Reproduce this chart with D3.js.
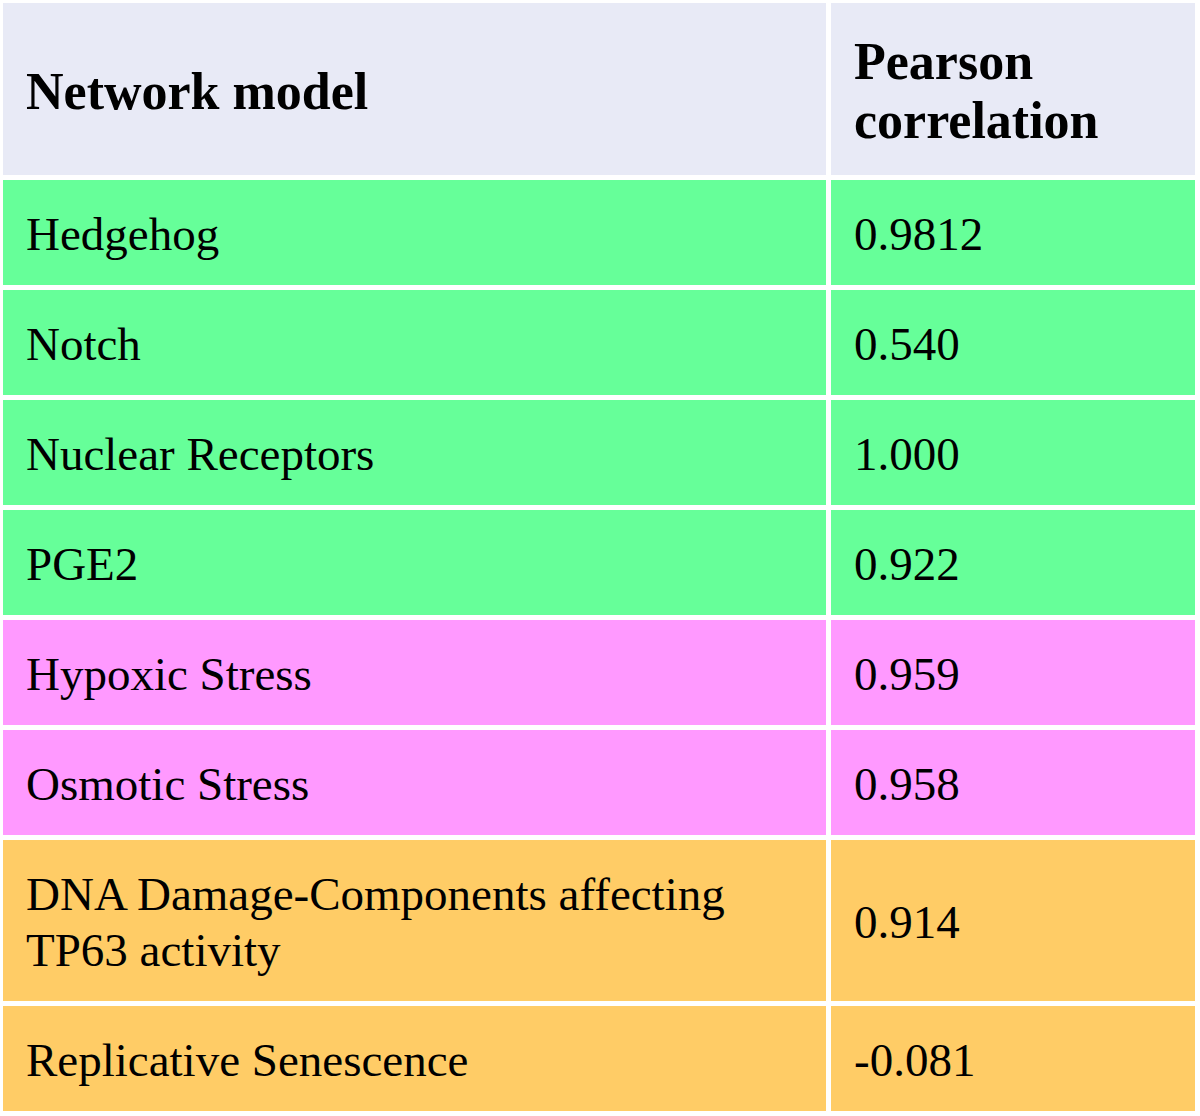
<!DOCTYPE html>
<html>
<head>
<meta charset="utf-8">
<script src="https://cdn.jsdelivr.net/npm/d3@7"></script>
<style>
  html, body { margin: 0; padding: 0; background: #ffffff; }
  svg { display: block; }
</style>
</head>
<body>
<svg id="chart" width="1200" height="1116"></svg>
<script>
// ---- data ----
const headers = ["Network model", "Pearson correlation"];
const models = ["Hedgehog", "Notch", "Nuclear Receptors", "PGE2", "Hypoxic Stress", "Osmotic Stress", "DNA Damage-Components affecting TP63 activity", "Replicative Senescence"];
const correlations = ["0.9812", "0.540", "1.000", "0.922", "0.959", "0.958", "0.914", "-0.081"];
const groups = ["A", "A", "A", "A", "B", "B", "C", "C"];

// ---- styling ----
const groupColor = d3.scaleOrdinal().domain(["A", "B", "C"]).range(["#66FF99", "#FF99FF", "#FFCC66"]);
const headerColor = "#E8EAF6";
const fontFamily = "'Liberation Serif', 'Times New Roman', serif";
const bodySize = 47, headSize = 52;
const bodyLH = 56, headLH = 59;
const padX = 23;
const gap = 5;
const tableLeft = 3, tableTop = 3, tableRight = 1195;
const colSplit = 826; // right edge of first column

const svg = d3.select("#chart");
const measure = svg.append("text").attr("font-family", fontFamily).attr("visibility", "hidden");

function wrap(str, width, size, weight) {
  measure.attr("font-size", size).attr("font-weight", weight);
  const words = str.split(" ");
  const lines = [];
  let cur = "";
  words.forEach(w => {
    const test = cur ? cur + " " + w : w;
    measure.text(test);
    if (measure.node().getComputedTextLength() > width && cur) {
      lines.push(cur); cur = w;
    } else cur = test;
  });
  if (cur) lines.push(cur);
  return lines;
}

const col = d3.scaleOrdinal().domain([0, 1]).range([[tableLeft, colSplit], [colSplit + gap, tableRight]]);

const rows = [{ cells: headers, fill: headerColor, weight: "bold", size: headSize, lh: headLH }]
  .concat(models.map((m, i) => ({ cells: [m, correlations[i]], fill: groupColor(groups[i]), weight: "normal", size: bodySize, lh: bodyLH })));

rows.forEach(r => {
  r.lines = r.cells.map((c, j) => {
    const [x0, x1] = col(j);
    return wrap(c, x1 - x0 - 2 * padX, r.size, r.weight);
  });
  r.units = d3.max(r.lines, l => l.length);
});

const baseH = 105;
rows.forEach((r, i) => {
  if (i === 0) r.h = 172;
  else r.h = baseH + (r.units - 1) * bodyLH;
});
let yc = tableTop;
rows.forEach(r => { r.y = yc; yc += r.h + gap; });

const g = svg.selectAll("g.row").data(rows).join("g").attr("class", "row");

g.each(function(r) {
  const gr = d3.select(this);
  r.cells.forEach((c, j) => {
    const [x0, x1] = col(j);
    gr.append("rect")
      .attr("x", x0).attr("y", r.y)
      .attr("width", x1 - x0).attr("height", r.h)
      .attr("fill", r.fill);
    const lines = r.lines[j];
    const blockH = (lines.length - 1) * r.lh;
    const cy = r.y + r.h / 2;
    const firstBase = cy - blockH / 2 + r.size * 0.38;
    const t = gr.append("text")
      .attr("font-family", fontFamily)
      .attr("font-size", r.size)
      .attr("font-weight", r.weight)
      .attr("fill", "#000");
    lines.forEach((ln, k) => {
      t.append("tspan").attr("x", x0 + padX).attr("y", firstBase + k * r.lh).text(ln);
    });
  });
});
measure.remove();
</script>
</body>
</html>
